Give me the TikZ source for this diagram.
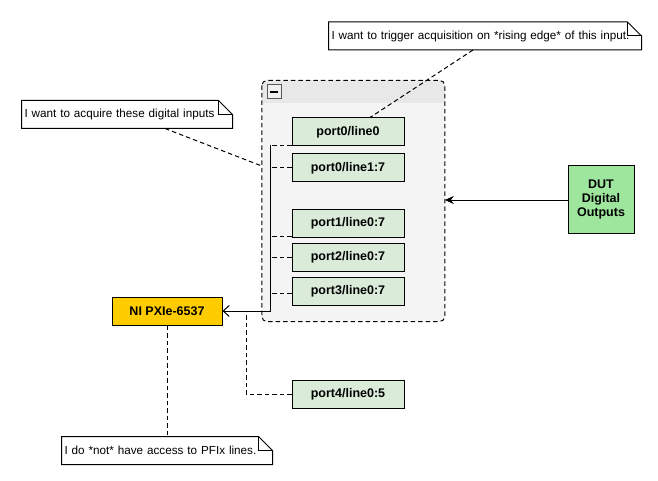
\documentclass[tikz,border=0pt]{standalone}
\usepackage{fontspec}
\setmainfont{Liberation Sans}
\usetikzlibrary{arrows.meta,calc}
\definecolor{portfill}{HTML}{DAEBDA}
\definecolor{dutfill}{HTML}{9EE59E}
\definecolor{nifill}{HTML}{FFCC00}
\definecolor{headgray}{HTML}{E8E8E8}
\definecolor{bodygray}{HTML}{F4F4F4}
\definecolor{minusgray}{HTML}{F0F0F0}
\tikzset{
  portbox/.style={draw, fill=portfill, minimum width=112pt, minimum height=28pt, inner sep=0pt,
    font=\fontsize{12.5}{14}\selectfont\bfseries},
  notebox/.style={minimum height=27pt, inner xsep=2.5pt, inner ysep=0pt, align=left,
    font=\fontsize{11.7}{13}\selectfont, anchor=center},
  dsh/.style={dash pattern=on 4.5pt off 3pt},
}
\newcommand{\notefold}[1]{%
  \draw[fill=white] (#1.south west) -- (#1.north west) -- ([xshift=-14pt]#1.north east)
    -- ([yshift=-14pt]#1.north east) -- (#1.south east) -- cycle;
  \draw ([xshift=-14pt]#1.north east) -- ([xshift=-14pt,yshift=-14pt]#1.north east)
    -- ([yshift=-14pt]#1.north east);}
\begin{document}
\begin{tikzpicture}[x=1pt,y=-1pt,line width=1pt]
\useasboundingbox (0,0) rectangle (658,481);
\fill[white] (0,0) rectangle (658,481);

% container
\node[minimum width=182pt, minimum height=240pt, inner sep=0pt, fill=bodygray, rounded corners=5pt] (cont) at (353.3,201) {};
\begin{scope}
  \clip (250,70) rectangle (460,102.7);
  \fill[headgray, rounded corners=5pt] (cont.north west) rectangle (cont.south east);
\end{scope}
\draw[dsh, rounded corners=5pt] (cont.north west) rectangle (cont.south east);
\node[draw=gray!70!black, fill=minusgray, minimum size=14pt, inner sep=0pt, line width=0.8pt] (minus) at (274,91.7) {};
\draw[line width=2pt] ([xshift=-4pt]minus.center) -- ([xshift=4pt]minus.center);

% ports
\node[portbox] (p00) at (348,132) {port0/line0};
\node[portbox] (p01) at (348,168) {port0/line1:7};
\node[portbox] (p1) at (348,223.5) {port1/line0:7};
\node[portbox] (p2) at (348,257.5) {port2/line0:7};
\node[portbox] (p3) at (348,291.3) {port3/line0:7};
\node[portbox] (p4) at (348,394) {port4/line0:5};

% NI and DUT
\node[draw, fill=nifill, minimum width=110pt, minimum height=28pt, inner sep=0pt,
  font=\fontsize{12.5}{14}\selectfont\bfseries] (ni) at (167,311) {NI PXIe-6537};
\node[draw, fill=dutfill, minimum width=66pt, minimum height=68pt, inner sep=0pt, align=center,
  font=\fontsize{12.5}{13.8}\selectfont\bfseries] (dut) at (601,199.5) {DUT\\Digital\\Outputs};

% notes
\node[notebox, text width=307pt] (n1) at (485,36) {};
\notefold{n1}
\node[notebox, text width=307pt] at (n1) {I want to trigger acquisition on *rising edge* of this input.};
\node[notebox, text width=205pt] (n2) at (127,114.5) {};
\notefold{n2}
\node[notebox, text width=205pt] at (n2) {I want to acquire these digital inputs};
\node[notebox, text width=205pt] (n3) at (167,450.5) {};
\notefold{n3}
\node[notebox, text width=205pt] at (n3) {I do *not* have access to PFIx lines.};

% connectors
\coordinate (bus) at (270,311);
\coordinate (bus4) at (246,311);
\draw[dsh] ([yshift=1pt]p00.south west) -- ([yshift=1pt]p00.south west -| bus);
\draw[dsh] (p01.west) -- (p01.west -| bus);
\draw[dsh] ([yshift=2pt]p1.south west) -- ([yshift=2pt]p1.south west -| bus);
\draw[dsh] (p2.west) -- (p2.west -| bus);
\draw[dsh] ([yshift=-2pt]p3.west) -- ([yshift=-2pt]p3.west -| bus);
\draw[-{Straight Barb[length=6pt,width=11pt]}] ([yshift=1pt]p00.south west -| bus) -- (bus) -- (ni.east);
\draw[dsh] (p4.west) -| (bus4);
\draw[-{Stealth[length=9pt,width=8pt]}] (dut.west |- 0,200) -- (cont.east |- 0,200);
\draw[dsh] ([xshift=-12pt]n1.south) -- ([xshift=22pt]p00.north);
\draw[dsh] ([xshift=38pt]n2.south) -- ([yshift=35pt]cont.west);
\draw[dsh] (ni.south) -- (n3.north);
\end{tikzpicture}
\end{document}
